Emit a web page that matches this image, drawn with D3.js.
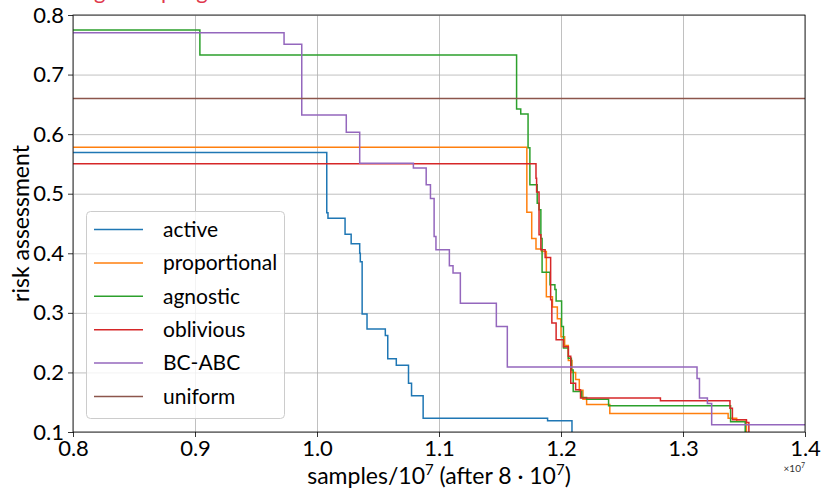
<!DOCTYPE html>
<html>
<head>
	<title>risk assessment</title>
	<meta charset='utf-8'>
	<style>
		body {
			margin: 0;
			background: #fff;
		}

		svg text {
			font-family: Lato, 'Noto Sans', sans-serif;
			fill: #000;
		}

		.grid line {
			stroke: #b0b0b0;
			stroke-width: 0.8px;
		}

		.grid path {
			stroke-width: 0;
		}

		.axis path {
			stroke-width: 0;
		}

		.axis line {
			stroke: #000;
			stroke-width: 0.8px;
		}

		.axis text {
			font-size: 22px;
		}

		.frame {
			fill: none;
			stroke: #000;
			stroke-width: 0.8px;
		}

		.line {
			fill: none;
			stroke-width: 1.5px;
		}

		.legend-box {
			fill: #fff;
			fill-opacity: 0.8;
			stroke: #cccccc;
			stroke-width: 1px;
		}

		.legend text {
			font-size: 21px;
		}
	</style>
</head>
<body>

<script src='https://cdnjs.cloudflare.com/ajax/libs/d3/7.8.5/d3.min.js'></script>
<script>
	'use strict';

	// ticks
	const xTicks = [0.8, 0.9, 1.0, 1.1, 1.2, 1.3, 1.4];
	const yTicks = [0.1, 0.2, 0.3, 0.4, 0.5, 0.6, 0.7, 0.8];

	// series: [samples/1e7, risk] pairs, step after each point
	const active = [
		[0.8, 0.569], [1.008, 0.468], [1.009, 0.459], [1.023, 0.432], [1.028, 0.416],
		[1.035, 0.400], [1.0355, 0.386], [1.037, 0.298], [1.041, 0.273], [1.056, 0.262],
		[1.058, 0.223], [1.065, 0.212], [1.075, 0.182], [1.0775, 0.161], [1.087, 0.123],
		[1.189, 0.119], [1.209, 0.05]
	];

	const proportional = [
		[0.8, 0.578], [1.172, 0.469], [1.176, 0.425], [1.1795, 0.407], [1.184, 0.403],
		[1.188, 0.327], [1.193, 0.310], [1.197, 0.290], [1.200, 0.260], [1.203, 0.245],
		[1.206, 0.220], [1.209, 0.200], [1.212, 0.188], [1.215, 0.170], [1.218, 0.155],
		[1.221, 0.146], [1.240, 0.131], [1.337, 0.123], [1.344, 0.118], [1.352, 0.05]
	];

	const agnostic = [
		[0.8, 0.775], [0.904, 0.733], [1.1636, 0.642], [1.167, 0.634], [1.173, 0.577],
		[1.1745, 0.515], [1.1805, 0.484], [1.182, 0.473], [1.1835, 0.425], [1.1845, 0.368],
		[1.191, 0.347], [1.195, 0.339], [1.196, 0.320], [1.2005, 0.277], [1.202, 0.241],
		[1.206, 0.224], [1.2085, 0.204], [1.210, 0.168], [1.217, 0.158], [1.221, 0.155],
		[1.239, 0.144], [1.339, 0.117], [1.351, 0.05]
	];

	const oblivious = [
		[0.8, 0.5505], [1.1795, 0.526], [1.180, 0.503], [1.182, 0.431], [1.1835, 0.406],
		[1.187, 0.393], [1.1915, 0.322], [1.1925, 0.283], [1.196, 0.255], [1.202, 0.243],
		[1.206, 0.227], [1.208, 0.182], [1.212, 0.171], [1.216, 0.157], [1.2815, 0.1524],
		[1.3385, 0.140], [1.3405, 0.1205], [1.352, 0.116], [1.354, 0.05]
	];

	const bcAbc = [
		[0.8, 0.770], [0.973, 0.751], [0.9875, 0.632], [1.024, 0.603], [1.035, 0.551],
		[1.079, 0.543], [1.0895, 0.515], [1.093, 0.492], [1.096, 0.428], [1.0975, 0.406],
		[1.1085, 0.379], [1.1115, 0.367], [1.1175, 0.316], [1.147, 0.277], [1.156, 0.209],
		[1.3115, 0.190], [1.3135, 0.157], [1.320, 0.148], [1.3235, 0.112], [1.4, 0.112]
	];

	const uniform = [[0.8, 0.66], [1.4, 0.66]];

	const names = ['active', 'proportional', 'agnostic', 'oblivious', 'BC-ABC', 'uniform'];
	const colors = ['#1f77b4', '#ff7f0e', '#2ca02c', '#d62728', '#9467bd', '#8c564b'];
	const seriesList = [active, proportional, agnostic, oblivious, bcAbc, uniform];

	const margin = {top: 15, right: 17, bottom: 60, left: 73};
	const width = 822 - margin.left - margin.right;
	const height = 492 - margin.top - margin.bottom;

	const xScale = d3.scaleLinear().domain([0.8, 1.4]).range([0, width]);
	const yScale = d3.scaleLinear().domain([0.1, 0.8]).range([height, 0]);

	const svg = d3.select('body').append('svg')
		.attr('width', 822)
		.attr('height', 492);

	// красный заголовок, обрезан сверху
	svg.append('text')
		.attr('x', 64)
		.attr('y', -1)
		.style('font-size', '22px')
		.style('fill', '#e0384c')
		.text('Large sampling');

	const g = svg.append('g')
		.attr('transform', 'translate(' + margin.left + ',' + margin.top + ')');

	// сетка
	g.append('g')
		.attr('class', 'grid')
		.attr('transform', 'translate(0,' + height + ')')
		.call(d3.axisBottom(xScale).tickValues(xTicks).tickSize(-height).tickFormat(''));

	g.append('g')
		.attr('class', 'grid')
		.call(d3.axisLeft(yScale).tickValues(yTicks).tickSize(-width).tickFormat(''));

	g.append('clipPath')
		.attr('id', 'plot-clip')
		.append('rect')
		.attr('width', width)
		.attr('height', height);

	const valueline = d3.line()
		.x(function(d) {return xScale(d[0]);})
		.y(function(d) {return yScale(d[1]);})
		.curve(d3.curveStepAfter);

	g.append('g')
		.attr('clip-path', 'url(#plot-clip)')
		.selectAll('.line')
		.data(seriesList)
		.enter()
		.append('path')
		.attr('class', 'line')
		.attr('stroke', function(d, i) {return colors[i];})
		.attr('d', valueline);

	// оси
	g.append('g')
		.attr('class', 'axis axis__x')
		.attr('transform', 'translate(0,' + height + ')')
		.call(d3.axisBottom(xScale).tickValues(xTicks).tickSize(5).tickPadding(3)
			.tickFormat(d3.format('.1f')));

	g.append('g')
		.attr('class', 'axis axis__y')
		.call(d3.axisLeft(yScale).tickValues(yTicks).tickSize(5).tickPadding(4)
			.tickFormat(d3.format('.1f')));

	g.append('rect')
		.attr('class', 'frame')
		.attr('width', width)
		.attr('height', height);

	// подписи осей
	const xLabel = svg.append('text')
		.attr('x', margin.left + width / 2)
		.attr('y', 484)
		.attr('text-anchor', 'middle')
		.style('font-size', '23px');
	xLabel.append('tspan').text('samples/10');
	xLabel.append('tspan').attr('dy', -9).style('font-size', '15px').text('7');
	xLabel.append('tspan').attr('dy', 9).text(' (after 8 \u00b7 10');
	xLabel.append('tspan').attr('dy', -9).style('font-size', '15px').text('7');
	xLabel.append('tspan').attr('dy', 9).text(')');

	svg.append('text')
		.attr('transform', 'translate(29,' + (margin.top + height / 2) + ') rotate(-90)')
		.attr('text-anchor', 'middle')
		.style('font-size', '23px')
		.text('risk assessment');

	const offset = svg.append('text')
		.attr('x', margin.left + width)
		.attr('y', 472)
		.attr('text-anchor', 'end')
		.style('font-size', '10px')
		.style('fill', '#333');
	offset.append('tspan').text('\u00d710');
	offset.append('tspan').attr('dy', -4).style('font-size', '7px').text('7');

	// легенда
	const legend = g.append('g')
		.attr('class', 'legend')
		.attr('transform', 'translate(13,196)');

	legend.append('rect')
		.attr('class', 'legend-box')
		.attr('x', 0.5)
		.attr('y', 0.5)
		.attr('rx', 4)
		.attr('width', 198)
		.attr('height', 207);

	const rows = legend.selectAll('.legend-row')
		.data(names)
		.enter()
		.append('g')
		.attr('class', 'legend-row')
		.attr('transform', function(d, i) {return 'translate(0,' + (18.5 + i * 33.4) + ')';});

	rows.append('line')
		.attr('x1', 8)
		.attr('x2', 57)
		.attr('stroke', function(d, i) {return colors[i];})
		.attr('stroke-width', 1.5);

	rows.append('text')
		.attr('x', 77)
		.attr('dy', '0.35em')
		.text(function(d) {return d;});
</script>
</body>
</html>
